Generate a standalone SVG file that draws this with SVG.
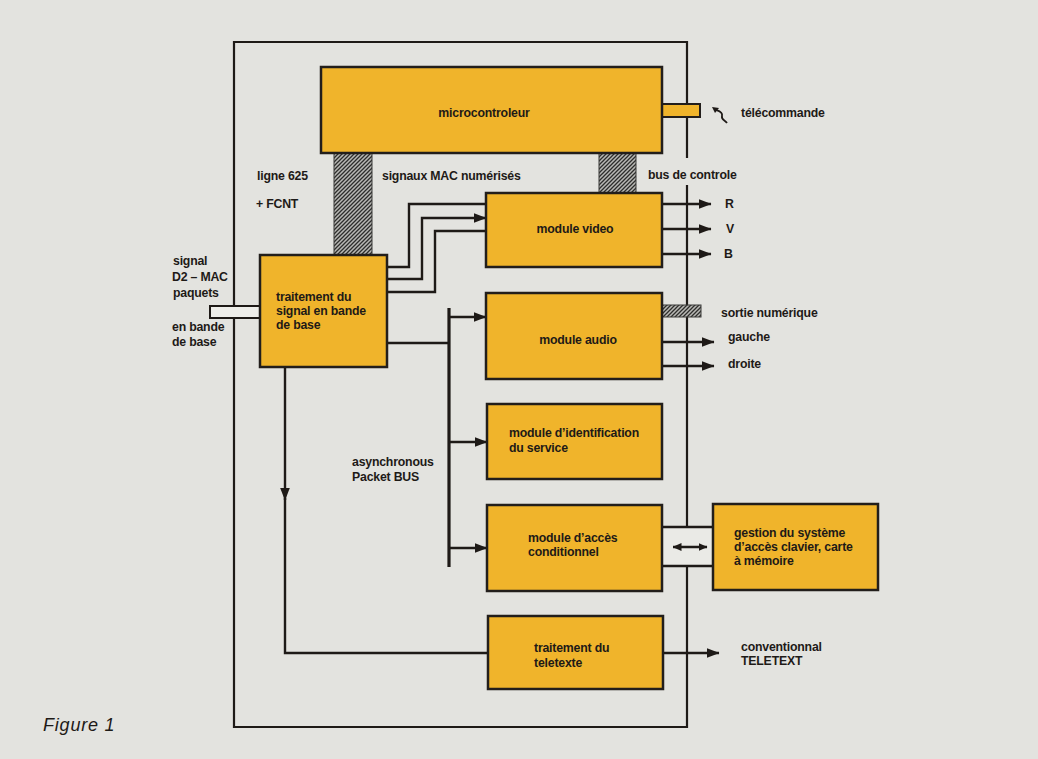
<svg xmlns="http://www.w3.org/2000/svg" width="1038" height="759" viewBox="0 0 1038 759">
<defs>
<style>
.bg{fill:#e3e3df}
.box{fill:#f0b42b;stroke:#221e1b;stroke-width:2.5}
.frame{fill:none;stroke:#1e1a17;stroke-width:2.2}
.ln{fill:none;stroke:#1e1a17;stroke-width:2.4}
.bus{fill:none;stroke:#1e1a17;stroke-width:3.2}
.hatch{fill:url(#hp);stroke:#3a3a38;stroke-width:1}
.t{font-family:"Liberation Sans",Arial,sans-serif;font-weight:bold;font-size:12.3px;fill:#1e1a17;letter-spacing:-0.2px}
.tm{text-anchor:middle}
.fig{font-family:"Liberation Sans",Arial,sans-serif;font-style:italic;font-size:18px;fill:#1e1a17;letter-spacing:0.8px}
</style>
<pattern id="hp" patternUnits="userSpaceOnUse" width="4" height="4">
<rect width="4" height="4" fill="#b9b9b5"/>
<path d="M-1,5 L5,-1 M-1,1 L1,-1 M3,5 L5,3" stroke="#2e2e2c" stroke-width="1.3"/>
</pattern>
<marker id="ah" markerUnits="userSpaceOnUse" markerWidth="13" markerHeight="10" refX="12.5" refY="5" orient="auto">
<path d="M0,0 L13,5 L0,10 z" fill="#1e1a17"/>
</marker>
<marker id="ahs" markerUnits="userSpaceOnUse" markerWidth="9" markerHeight="8" refX="8.5" refY="4" orient="auto-start-reverse">
<path d="M0,0 L9,4 L0,8 z" fill="#1e1a17"/>
</marker>
</defs>
<rect class="bg" x="0" y="0" width="1038" height="759"/>

<g id="frame">
<path class="frame" d="M687,158 V42 H234 V727 H687 V566 M687,527 V185"/>
</g>

<g id="connectors">
<!-- hatched buses -->
<rect class="hatch" x="334" y="153" width="38" height="102"/>
<rect class="hatch" x="599" y="153" width="37" height="40"/>
<rect class="hatch" x="662" y="305" width="39" height="12"/>
<!-- video inputs -->
<path class="ln" d="M387,267 H409 V204 H486"/>
<path class="ln" d="M387,279 H422 V218 H486" marker-end="url(#ah)"/>
<path class="ln" d="M387,292 H435 V231 H486"/>
<!-- RVB -->
<path class="ln" d="M662,204 H711" marker-end="url(#ah)"/>
<path class="ln" d="M662,229 H711" marker-end="url(#ah)"/>
<path class="ln" d="M662,254 H711" marker-end="url(#ah)"/>
<!-- audio outputs -->
<path class="ln" d="M662,342 H714" marker-end="url(#ah)"/>
<path class="ln" d="M662,366 H714" marker-end="url(#ah)"/>
<!-- packet bus -->
<path class="ln" d="M387,343 H449"/>
<path class="bus" d="M449,308 V567"/>
<path class="ln" d="M449,317 H486" marker-end="url(#ah)"/>
<path class="ln" d="M449,442 H487" marker-end="url(#ah)"/>
<path class="ln" d="M449,548 H487" marker-end="url(#ah)"/>
<!-- teletext path -->
<path class="ln" d="M285,367 V500" marker-end="url(#ah)"/>
<path class="ln" d="M285,498 V653 H488"/>
<path class="ln" d="M663,653 H719" marker-end="url(#ah)"/>
<!-- channel to gestion -->
<rect x="662" y="527" width="51" height="39" fill="#eaeae6" stroke="none"/>
<path class="ln" d="M662,527 H713 M662,566 H713"/>
<path class="ln" d="M673,547 H707" marker-start="url(#ahs)" marker-end="url(#ahs)"/>
<!-- input tab -->
<rect x="210" y="306" width="50" height="12" fill="#eeeeea" stroke="#1e1a17" stroke-width="2"/>
<!-- telecommande -->
<rect x="662" y="104" width="38" height="13" fill="#f0b42b" stroke="#221e1b" stroke-width="2"/>
<path d="M727,123 C725,120 721,120 722,116 C723,112 719,111 716,110" fill="none" stroke="#1e1a17" stroke-width="1.8"/>
<path d="M712,107 L719,108 L715,113 z" fill="#1e1a17"/>
</g>

<g id="microcontroleur">
<rect class="box" x="321" y="67" width="341" height="86"/>
<text class="t tm" x="484" y="117">microcontroleur</text>
</g>

<g id="traitement-signal">
<rect class="box" x="260" y="255" width="127" height="112"/>
<text class="t" x="276" y="301">traitement du</text>
<text class="t" x="276" y="315">signal en bande</text>
<text class="t" x="276" y="329">de base</text>
</g>

<g id="module-video">
<rect class="box" x="486" y="193" width="176" height="74"/>
<text class="t tm" x="575" y="233">module video</text>
</g>

<g id="module-audio">
<rect class="box" x="486" y="293" width="176" height="86"/>
<text class="t tm" x="578" y="344">module audio</text>
</g>

<g id="module-identification">
<rect class="box" x="487" y="404" width="175" height="75"/>
<text class="t" x="509" y="437">module d’identification</text>
<text class="t" x="509" y="452">du service</text>
</g>

<g id="module-acces">
<rect class="box" x="487" y="505" width="175" height="86"/>
<text class="t" x="528" y="542">module d’accès</text>
<text class="t" x="528" y="556">conditionnel</text>
</g>

<g id="gestion">
<rect class="box" x="713" y="504" width="165" height="86"/>
<text class="t" x="734" y="537">gestion du système</text>
<text class="t" x="734" y="551">d’accès clavier, carte</text>
<text class="t" x="734" y="565">à mémoire</text>
</g>

<g id="teletexte">
<rect class="box" x="488" y="616" width="175" height="73"/>
<text class="t" x="534" y="652">traitement du</text>
<text class="t" x="534" y="667">teletexte</text>
</g>

<g id="labels">
<text class="t" x="741" y="117">télécommande</text>
<text class="t" x="257" y="180">ligne 625</text>
<text class="t" x="256" y="208">+ FCNT</text>
<text class="t" x="382" y="180">signaux MAC numérisés</text>
<text class="t" x="648" y="179">bus de controle</text>
<text class="t" x="725" y="208">R</text>
<text class="t" x="726" y="233">V</text>
<text class="t" x="724" y="258">B</text>
<text class="t" x="173" y="265">signal</text>
<text class="t" x="172" y="281">D2 – MAC</text>
<text class="t" x="173" y="297">paquets</text>
<text class="t" x="172" y="331">en bande</text>
<text class="t" x="172" y="346">de base</text>
<text class="t" x="721" y="317">sortie numérique</text>
<text class="t" x="728" y="341">gauche</text>
<text class="t" x="728" y="368">droite</text>
<text class="t" x="352" y="466">asynchronous</text>
<text class="t" x="352" y="481">Packet BUS</text>
<text class="t" x="741" y="651">conventionnal</text>
<text class="t" x="741" y="665">TELETEXT</text>
<text class="fig" x="43" y="731">Figure 1</text>
</g>
</svg>
